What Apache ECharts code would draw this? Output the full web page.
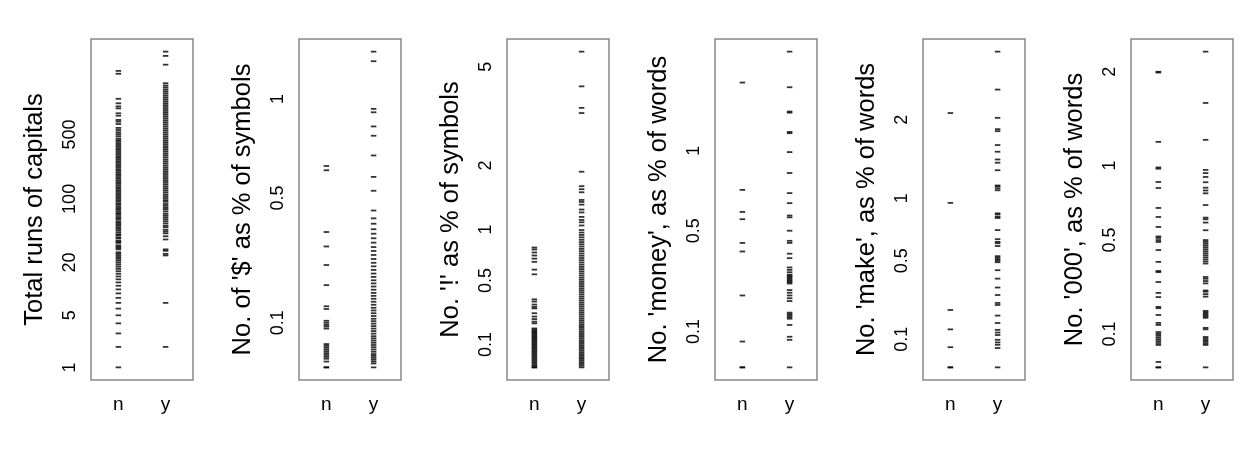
<!DOCTYPE html>
<html><head><meta charset="utf-8">
<script src="https://cdn.jsdelivr.net/npm/echarts@6/dist/echarts.min.js"></script>
<style>html,body{margin:0;padding:0;background:#fff}#chart{width:1248px;height:460px}</style>
</head><body><div id="chart"></div>
<script>
// ---- categories ----
const groups = ['n', 'y'];

// ---- axis titles ----
const titles = [
  'Total runs of capitals',
  "No. of '$' as % of symbols",
  "No. '!' as % of symbols",
  "No. 'money', as % of words",
  "No. 'make', as % of words",
  "No. '000', as % of words"
];

// ---- tick labels (original units) ----
const ticksCrl = [1, 5, 20, 100, 500];
const ticksDollar = [0.1, 0.5, 1];
const ticksBang = [0.1, 0.5, 1, 2, 5];
const ticksMoney = [0.1, 0.5, 1];
const ticksMake = [0.1, 0.5, 1, 2];
const ticks000 = [0.1, 0.5, 1, 2];

// ---- values (original units) ----
const crlN = [1,2,3,4,5,6,7,8,9,10,11,12,13,14,15,16,17,18,19,20,21,22,23,24,25,26,28,29,30,31,33,34,35,37,38,40,41,43,45,47,49,51,53,55,57,60,62,65,68,70,73,76,79,82,86,89,93,97,101,105,110,114,119,124,129,134,140,146,152,158,165,172,179,186,194,202,210,219,228,237,247,257,268,279,290,302,315,328,341,355,370,385,401,418,435,453,480,505,530,560,590,650,690,720,800,850,960,1010,1090,1220,2280,2450];
const crlY = [2,7,24,25,27,28,36,39,42,44,46,49,51,54,57,60,63,66,69,73,77,80,84,88,93,97,102,107,112,118,124,130,136,143,150,157,165,173,182,191,200,210,220,231,243,255,267,281,295,309,325,341,358,375,394,414,434,456,478,502,527,554,581,610,641,673,706,742,779,818,858,901,946,994,1043,1095,1150,1208,1268,1331,1400,1470,1540,1620,1700,1800,2860,3560,3961];

const dollarN = [0,0,0.012,0.018,0.022,0.026,0.03,0.034,0.038,0.042,0.046,0.05,0.086,0.091,0.095,0.1,0.105,0.135,0.142,0.2,0.26,0.32,0.37,0.62,0.64];
const dollarY = [0,0.008,0.012,0.016,0.02,0.024,0.028,0.033,0.038,0.043,0.048,0.053,0.058,0.063,0.068,0.074,0.08,0.086,0.092,0.098,0.104,0.11,0.117,0.124,0.131,0.138,0.146,0.154,0.162,0.17,0.178,0.187,0.196,0.205,0.214,0.224,0.234,0.245,0.256,0.267,0.279,0.292,0.305,0.318,0.333,0.348,0.364,0.38,0.4,0.42,0.45,0.53,0.59,0.69,0.79,0.84,0.92,0.94,1.25,1.32];

const bangN = [0,0,0.006,0.012,0.018,0.024,0.03,0.036,0.042,0.048,0.054,0.06,0.066,0.072,0.078,0.084,0.09,0.096,0.102,0.108,0.114,0.12,0.126,0.132,0.138,0.144,0.15,0.156,0.162,0.168,0.175,0.182,0.21,0.22,0.235,0.25,0.27,0.3,0.31,0.325,0.345,0.36,0.55,0.59,0.66,0.69,0.72,0.75,0.78,0.8];
const bangY = [0,0.007,0.014,0.021,0.028,0.035,0.042,0.049,0.056,0.064,0.072,0.08,0.088,0.096,0.104,0.112,0.12,0.129,0.138,0.147,0.156,0.165,0.175,0.185,0.195,0.205,0.216,0.227,0.238,0.25,0.262,0.274,0.286,0.299,0.312,0.325,0.338,0.352,0.366,0.38,0.395,0.41,0.425,0.44,0.456,0.472,0.488,0.505,0.522,0.54,0.558,0.576,0.595,0.614,0.634,0.654,0.675,0.696,0.718,0.74,0.763,0.786,0.81,0.834,0.858,0.883,0.91,0.937,0.965,0.995,1.05,1.09,1.12,1.16,1.22,1.26,1.33,1.37,1.4,1.52,1.57,1.62,1.88,3.3,3.46,4.2,5.7];

const moneyN = [0,0,0.07,0.22,0.4,0.44,0.56,0.6,0.73,1.62];
const moneyY = [0,0.075,0.084,0.12,0.14,0.145,0.15,0.155,0.16,0.2,0.21,0.22,0.23,0.24,0.265,0.27,0.275,0.28,0.285,0.29,0.295,0.3,0.31,0.32,0.33,0.37,0.39,0.44,0.45,0.5,0.57,0.58,0.65,0.71,0.84,0.99,1.14,1.15,1.32,1.33,1.57,1.98];

const makeN = [0,0,0.07,0.14,0.226,0.956,2.11];
const makeY = [0,0.067,0.079,0.088,0.098,0.117,0.127,0.138,0.167,0.2,0.25,0.26,0.3,0.34,0.39,0.44,0.49,0.5,0.51,0.52,0.53,0.6,0.62,0.63,0.65,0.72,0.82,0.83,0.85,0.86,1.08,1.1,1.12,1.13,1.3,1.39,1.43,1.53,1.62,1.82,1.85,2.03,2.54,3.39];

const n000N = [0,0,0.015,0.065,0.071,0.077,0.083,0.089,0.095,0.1,0.106,0.13,0.137,0.165,0.19,0.195,0.233,0.25,0.296,0.34,0.345,0.388,0.447,0.49,0.5,0.512,0.52,0.574,0.634,0.691,0.828,0.872,0.975,0.985,1.207,1.99,2.0];
const n000Y = [0,0.065,0.07,0.075,0.08,0.085,0.09,0.115,0.12,0.155,0.16,0.165,0.17,0.175,0.18,0.235,0.245,0.255,0.26,0.29,0.3,0.31,0.318,0.38,0.39,0.4,0.41,0.42,0.43,0.44,0.45,0.46,0.47,0.48,0.49,0.5,0.555,0.6,0.62,0.63,0.71,0.79,0.81,0.83,0.87,0.91,0.94,0.965,1.226,1.61,2.29];

// ---- scale: log(x + 0.5) ----
const OFFSET = 0.5;
const T = v => Math.log(v + OFFSET);

const panels = [
  {title: titles[0], nv: crlN, yv: crlY, ticks: ticksCrl},
  {title: titles[1], nv: dollarN, yv: dollarY, ticks: ticksDollar},
  {title: titles[2], nv: bangN, yv: bangY, ticks: ticksBang},
  {title: titles[3], nv: moneyN, yv: moneyY, ticks: ticksMoney},
  {title: titles[4], nv: makeN, yv: makeY, ticks: ticksMake},
  {title: titles[5], nv: n000N, yv: n000Y, ticks: ticks000}
];

const FONT = '"Liberation Sans", Arial, Helvetica, sans-serif';
const grid = [], xAxis = [], yAxis = [], series = [];
panels.forEach((p, i) => {
  grid.push({left: 91 + 208 * i, top: 39, width: 102, height: 341, show: true,
    borderColor: '#888888', borderWidth: 1.5, backgroundColor: 'transparent'});
  xAxis.push({gridIndex: i, type: 'value', min: 0.42, max: 2.58,
    axisLine: {show: false}, axisTick: {show: false}, splitLine: {show: false},
    axisLabel: {customValues: [1, 2], formatter: v => groups[Math.round(v) - 1],
      color: '#000', fontSize: 19, fontFamily: FONT, margin: 15}});
  const all = p.nv.concat(p.yv).map(T);
  const lo = Math.min(...all), hi = Math.max(...all);
  const pad = (hi - lo) * 0.04;
  yAxis.push({gridIndex: i, type: 'value', min: lo - pad, max: hi + pad,
    name: p.title, nameLocation: 'middle', nameRotate: 90, nameGap: 43,
    nameTextStyle: {color: '#000', fontSize: 25.5, fontFamily: FONT},
    axisLine: {show: false}, axisTick: {show: false}, splitLine: {show: false},
    axisLabel: {customValues: p.ticks.map(T), rotate: 90, margin: 12,
      color: '#000', fontSize: 18, fontFamily: FONT,
      formatter: v => {
        let best = p.ticks[0];
        p.ticks.forEach(t => { if (Math.abs(T(t) - v) < Math.abs(T(best) - v)) best = t; });
        return String(best);
      }}});
  [p.nv, p.yv].forEach((vals, g) => {
    series.push({type: 'scatter', xAxisIndex: i, yAxisIndex: i,
      symbol: 'rect', symbolSize: [5.5, 1.8], silent: true,
      itemStyle: {color: '#000'},
      data: vals.map(v => [g + 1, T(v)])});
  });
});

const chart = echarts.init(document.getElementById('chart'), null, {renderer: 'canvas'});
chart.setOption({animation: false, backgroundColor: '#fff', grid, xAxis, yAxis, series});
</script></body></html>
